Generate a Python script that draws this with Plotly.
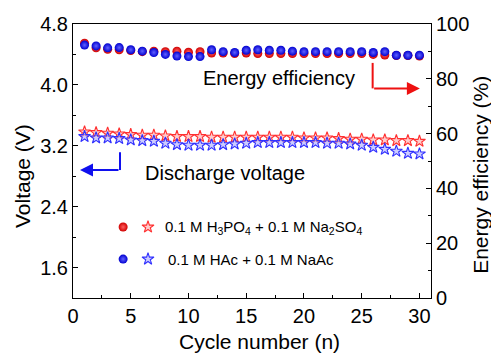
import plotly.graph_objects as go

cycles = list(range(1, 31))

ee_h3po4 = [93.0, 91.3, 90.8, 90.6, 90.3, 89.9, 90.1, 89.9, 90.1, 89.7, 89.9, 89.4, 89.4, 89.2,
            89.4, 89.2, 89.2, 89.2, 89.2, 89.2, 89.2, 89.2, 89.2, 89.2, 89.2, 88.9, 88.7, 88.5,
            88.5, 88.3]
ee_hac = [92.3, 92.0, 91.3, 91.4, 90.6, 90.1, 89.6, 88.9, 88.3, 88.1, 88.1, 90.6, 89.9, 89.6,
          90.4, 90.6, 90.4, 90.4, 90.1, 89.9, 89.9, 89.9, 89.9, 89.9, 89.9, 89.6, 89.9, 88.6,
          88.6, 88.6]

v_h3po4 = [3.382, 3.373, 3.365, 3.356, 3.347, 3.338, 3.338, 3.330, 3.321, 3.321, 3.321, 3.312,
           3.312, 3.312, 3.312, 3.312, 3.312, 3.312, 3.312, 3.303, 3.303, 3.303, 3.295, 3.286,
           3.286, 3.277, 3.277, 3.268, 3.268, 3.259]
v_hac = [3.321, 3.303, 3.303, 3.295, 3.277, 3.268, 3.259, 3.233, 3.215, 3.207, 3.207, 3.207,
         3.215, 3.224, 3.233, 3.242, 3.242, 3.242, 3.242, 3.242, 3.242, 3.233, 3.233, 3.224,
         3.207, 3.180, 3.154, 3.128, 3.101, 3.093]

label_h3po4 = "0.1 M H<sub>3</sub>PO<sub>4</sub> + 0.1 M Na<sub>2</sub>SO<sub>4</sub>"
label_hac = "0.1 M HAc + 0.1 M NaAc"

FONT = "Arial, Liberation Sans, sans-serif"

fig = go.Figure()

star_red = dict(symbol="star", size=9, color="rgba(255,170,170,0.6)",
                line=dict(color="#ff3030", width=1.1))
star_blue = dict(symbol="star", size=9, color="rgba(170,170,255,0.6)",
                 line=dict(color="#3030ff", width=1.1))
ball_red = dict(symbol="circle", size=9, color="#d00000",
                gradient=dict(type="radial", color="#ff6060"), line=dict(width=0))
ball_blue = dict(symbol="circle", size=9, color="#0000d0",
                 gradient=dict(type="radial", color="#6060ff"), line=dict(width=0))

fig.add_trace(go.Scatter(x=cycles, y=v_h3po4, mode="markers", marker=star_red,
                         showlegend=False, yaxis="y"))
fig.add_trace(go.Scatter(x=cycles, y=v_hac, mode="markers", marker=star_blue,
                         showlegend=False, yaxis="y"))
fig.add_trace(go.Scatter(x=cycles, y=ee_h3po4, mode="markers", marker=ball_red,
                         showlegend=False, yaxis="y2"))
fig.add_trace(go.Scatter(x=cycles, y=ee_hac, mode="markers", marker=ball_blue,
                         showlegend=False, yaxis="y2"))

# legend key markers on a hidden overlay axis (0..1 = plot area)
leg_x_ball, leg_x_star = 0.14, 0.2095
leg_y = [0.259, 0.142]
fig.add_trace(go.Scatter(x=[leg_x_ball], y=[leg_y[0]], mode="markers", marker=ball_red,
                         xaxis="x3", yaxis="y3", showlegend=False, hoverinfo="skip"))
fig.add_trace(go.Scatter(x=[leg_x_star], y=[leg_y[0]], mode="markers", marker=star_red,
                         xaxis="x3", yaxis="y3", showlegend=False, hoverinfo="skip"))
fig.add_trace(go.Scatter(x=[leg_x_ball], y=[leg_y[1]], mode="markers", marker=ball_blue,
                         xaxis="x3", yaxis="y3", showlegend=False, hoverinfo="skip"))
fig.add_trace(go.Scatter(x=[leg_x_star], y=[leg_y[1]], mode="markers", marker=star_blue,
                         xaxis="x3", yaxis="y3", showlegend=False, hoverinfo="skip"))

axis_common = dict(showline=True, linecolor="black", linewidth=1, ticks="inside",
                   ticklen=5, tickcolor="black", showgrid=False, zeroline=False,
                   tickfont=dict(family=FONT, size=20, color="black"))

fig.update_layout(
    width=491, height=355,
    margin=dict(l=73, r=60, t=24, b=57),
    paper_bgcolor="white", plot_bgcolor="white",
    font=dict(family=FONT, color="black"),
    xaxis=dict(range=[0, 31], tickvals=[0, 5, 10, 15, 20, 25, 30], mirror=True,
               minor=dict(ticks="inside", ticklen=3, tickcolor="black", dtick=2.5, tick0=0),
               **axis_common),
    yaxis=dict(range=[1.2, 4.8], tickvals=[1.6, 2.4, 3.2, 4.0, 4.8], ticktext=["1.6", "2.4", "3.2", "4.0", "4.8"],
               minor=dict(ticks="inside", ticklen=3, tickcolor="black", dtick=0.4, tick0=1.2),
               **axis_common),
    yaxis2=dict(range=[0, 100], tickvals=[0, 20, 40, 60, 80, 100], overlaying="y", side="right",
                minor=dict(ticks="inside", ticklen=3, tickcolor="black", dtick=10, tick0=0),
                **axis_common),
    xaxis3=dict(range=[0, 1], overlaying="x", visible=False, fixedrange=True),
    yaxis3=dict(range=[0, 1], overlaying="y", visible=False, fixedrange=True),
)


def txt(text, x, y, size, xanchor="center", angle=0):
    return dict(text=text, x=x, y=y, xref="paper", yref="paper", xanchor=xanchor,
                yanchor="middle", textangle=angle, showarrow=False,
                font=dict(size=size, family=FONT, color="black"))


ann = [
    txt("Voltage (V)", -0.1425, 0.445, 21, angle=-90),
    txt("Energy efficiency (%)", 1.14, 0.45, 21, angle=-90),
    txt("Cycle number (n)", 0.522, -0.16, 21),
    txt("Energy efficiency", 0.357, 0.803, 20, xanchor="left"),
    txt("Discharge voltage", 0.1955, 0.456, 20, xanchor="left"),
    txt(label_h3po4, 0.251, leg_y[0], 15, xanchor="left"),
    txt(label_hac, 0.26, leg_y[1], 15, xanchor="left"),
]
# arrows
ann.append(dict(text="", x=0.969, y=0.765, ax=0.837, ay=0.765, xref="x domain", yref="y domain",
                axref="x domain", ayref="y domain", showarrow=True, arrowhead=2, arrowsize=1.3,
                arrowwidth=2, arrowcolor="#ee1111"))
ann.append(dict(text="", x=0.0196, y=0.467, ax=0.1313, ay=0.467, xref="x domain", yref="y domain",
                axref="x domain", ayref="y domain", showarrow=True, arrowhead=2, arrowsize=1.3,
                arrowwidth=2, arrowcolor="#1010ee"))
fig.update_layout(annotations=ann)

fig.update_layout(shapes=[
    dict(type="line", xref="paper", yref="paper", x0=0.837, x1=0.837, y0=0.858, y1=0.765,
         line=dict(color="#ee1111", width=2)),
    dict(type="line", xref="paper", yref="paper", x0=0.1313, x1=0.1313, y0=0.532, y1=0.467,
         line=dict(color="#1010ee", width=2)),
])

fig.write_html("out.html")
